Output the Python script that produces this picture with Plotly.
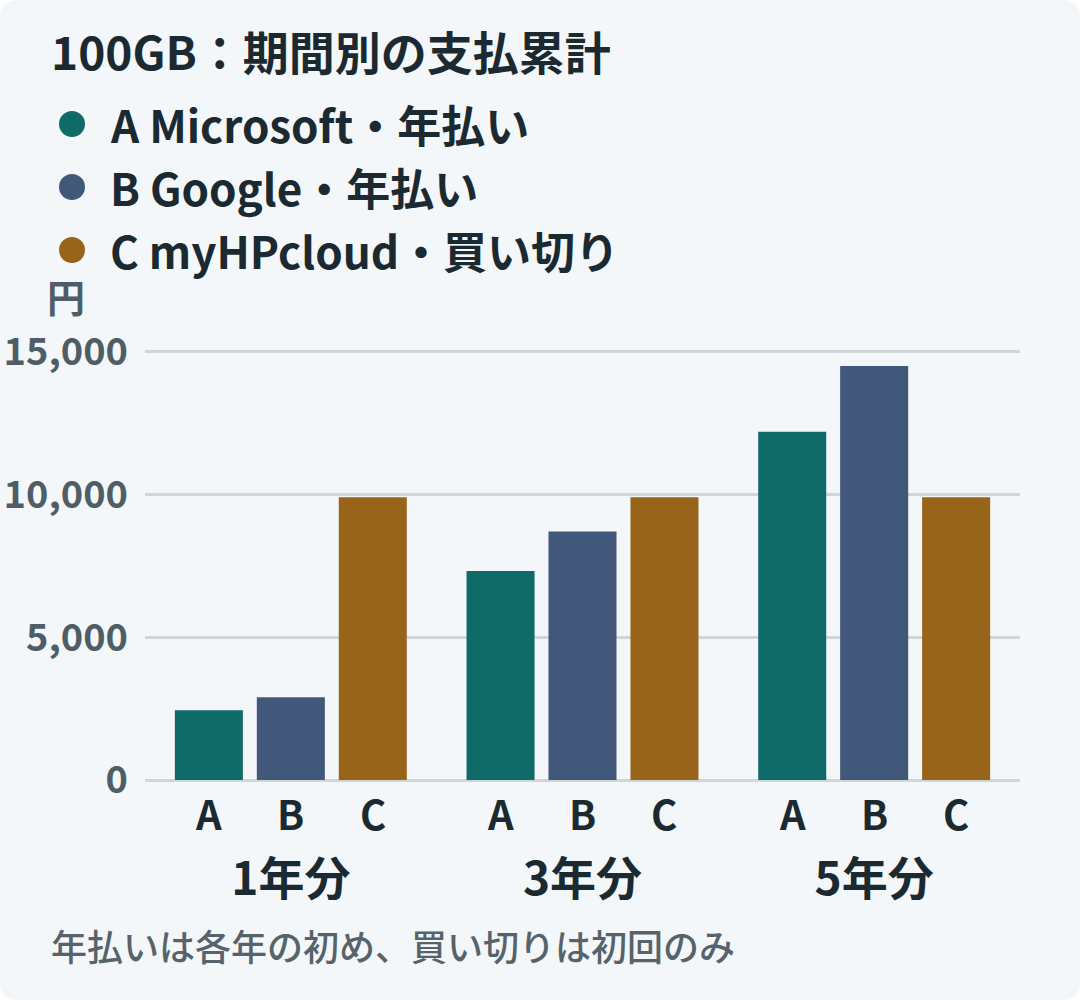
import plotly.graph_objects as go

# ---- data ----
periods = ["1年分", "3年分", "5年分"]
series_keys = ["A", "B", "C"]
series_names = ["A Microsoft・年払い", "B Google・年払い", "C myHPcloud・買い切り"]
values_a = [2440, 7320, 12200]
values_b = [2900, 8700, 14500]
values_c = [9900, 9900, 9900]
y_ticks = [0, 5000, 10000, 15000]
title_text = "100GB：期間別の支払累計"
y_unit = "円"
footnote = "年払いは各年の初め、買い切りは初回のみ"

colors = ["#0f6b67", "#42587a", "#98641a"]
series_values = [values_a, values_b, values_c]

FONT = "Noto Sans CJK JP"
DARK = "#1b2a30"
GRAY = "#4f5d66"
BG = "#f4f7f9"
GRID = "#cfd6d8"

W, H = 1080, 1000
L, R, T, B = 145, 60, 350, 220
PW, PH = W - L - R, H - T - B
Y_MAX = 15060

def px(x):
    return (x - L) / PW

def py(y):
    return (H - B - y) / PH

BARGAP = 0.157
BARGROUPGAP = 0.17

fig = go.Figure()
for key, vals, col in zip(series_keys, series_values, colors):
    fig.add_trace(go.Bar(
        x=periods, y=vals, name=key, marker_color=col,
        marker_line_width=0, showlegend=False,
        hovertemplate="%{x} " + key + ": %{y:,}円<extra></extra>",
    ))

annotations = []
shapes = []

# card background (rounded rectangle)
r = 18
x0, x1 = px(0), px(W)
y0, y1 = py(H), py(0)
rx, ry = r / PW, r / PH
path = (f"M {x0+rx},{y0} L {x1-rx},{y0} Q {x1},{y0} {x1},{y0+ry} "
        f"L {x1},{y1-ry} Q {x1},{y1} {x1-rx},{y1} L {x0+rx},{y1} "
        f"Q {x0},{y1} {x0},{y1-ry} L {x0},{y0+ry} Q {x0},{y0} {x0+rx},{y0} Z")
shapes.append(dict(type="path", path=path, xref="paper", yref="paper",
                   fillcolor=BG, line=dict(width=0), layer="below"))

# title
annotations.append(dict(text=title_text, xref="paper", yref="paper",
                        x=px(49), y=py(50), xanchor="left", yanchor="middle",
                        showarrow=False,
                        font=dict(family=FONT, size=46, color=DARK, weight=700)))

# legend
for i, (name, col) in enumerate(zip(series_names, colors)):
    cy = 124 + i * 63
    shapes.append(dict(type="circle", xref="paper", yref="paper",
                       x0=px(59), x1=px(85), y0=py(cy + 13), y1=py(cy - 13),
                       fillcolor=col, line=dict(width=0)))
    annotations.append(dict(text=name, xref="paper", yref="paper",
                            x=px(108), y=py(cy), xanchor="left", yanchor="middle",
                            showarrow=False,
                            font=dict(family=FONT, size=44, color=DARK, weight=700)))

# y unit
annotations.append(dict(text=y_unit, xref="paper", yref="paper",
                        x=px(66), y=py(295), xanchor="center", yanchor="middle",
                        showarrow=False,
                        font=dict(family=FONT, size=38, color=GRAY, weight=700)))

# series letter labels under each bar
slot = (1 - BARGAP) / len(series_keys)
for gi, _ in enumerate(periods):
    for si, key in enumerate(series_keys):
        annotations.append(dict(text=key, xref="x", yref="paper",
                                x=gi + (si - 1) * slot, y=py(813),
                                xanchor="center", yanchor="middle", showarrow=False,
                                font=dict(family=FONT, size=40, color=DARK, weight=700)))

# footnote
annotations.append(dict(text=footnote, xref="paper", yref="paper",
                        x=px(49), y=py(945), xanchor="left", yanchor="middle",
                        showarrow=False,
                        font=dict(family=FONT, size=36, color="#56636b", weight=500)))

fig.update_layout(
    width=W, height=H,
    margin=dict(l=L, r=R, t=T, b=B, pad=0, autoexpand=False),
    paper_bgcolor="white",
    plot_bgcolor="rgba(0,0,0,0)",
    barmode="group",
    bargap=BARGAP,
    bargroupgap=BARGROUPGAP,
    font=dict(family=FONT, color=DARK),
    shapes=shapes,
    annotations=annotations,
    xaxis=dict(type="category", categoryorder="array", categoryarray=periods,
               showgrid=False, showline=False, zeroline=False, ticks="",
               tickfont=dict(family=FONT, size=46, color=DARK, weight=700),
               ticklabelstandoff=68, fixedrange=True, automargin=False),
    yaxis=dict(range=[0, Y_MAX], tickvals=y_ticks, tickformat=",d",
               showgrid=True, gridcolor=GRID, gridwidth=3,
               zeroline=True, zerolinecolor=GRID, zerolinewidth=3,
               showline=False, ticks="",
               tickfont=dict(family=FONT, size=38, color=GRAY, weight=600),
               ticklabelstandoff=16, fixedrange=True, automargin=False),
)

fig.write_html(
    "out.html",
    config={"displayModeBar": False},
    post_script=(
        "document.documentElement.style.margin='0';"
        "document.documentElement.style.padding='0';"
        "document.body.style.margin='0';document.body.style.padding='0';"
        "document.body.style.overflow='hidden';"
        "var d=document.getElementById('{plot_id}');"
        "d.style.position='absolute';d.style.left='0px';d.style.top='0px';"
    ),
)
